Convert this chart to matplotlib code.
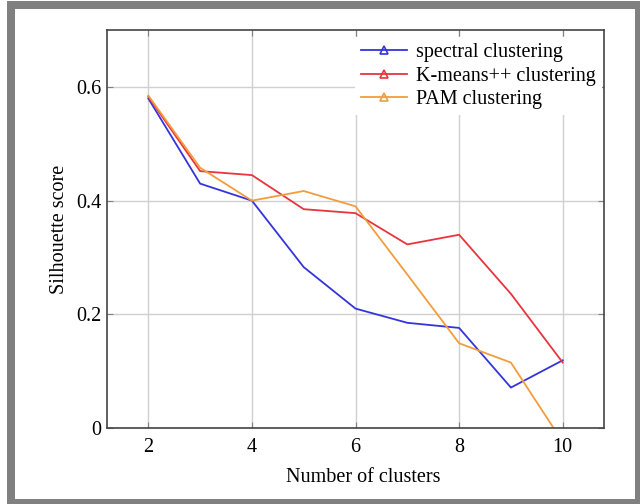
import matplotlib.pyplot as plt
from matplotlib.lines import Line2D
from matplotlib.patches import Rectangle

plt.rcParams['font.family'] = ['Liberation Serif', 'DejaVu Serif']

# 数据
n_clusters = [2, 3, 4, 5, 6, 7, 8, 9, 10]
spectral = [0.580, 0.430, 0.400, 0.283, 0.210, 0.185, 0.176, 0.071, 0.119]
kmeans = [0.583, 0.452, 0.445, 0.385, 0.378, 0.323, 0.340, 0.236, 0.115]
pam = [0.585, 0.458, 0.400, 0.417, 0.390, 0.270, 0.149, 0.115, -0.025]
names = ['spectral clustering', 'K-means++ clustering', 'PAM clustering']
colors = ['#3434dc', '#e8353d', '#f39c3e']

fs = 14.5

fig = plt.figure(figsize=(6.4, 5.04), dpi=100)
ax = fig.add_axes([0.167, 0.151, 0.777, 0.789])

# 灰色外框
fig.patches.append(Rectangle((7, 0), 640, 503, transform=None,
                             facecolor='#808080', edgecolor='none', zorder=-2))
fig.patches.append(Rectangle((15, 5), 620, 490, transform=None,
                             facecolor='white', edgecolor='none', zorder=-1))

for ys, c in zip([spectral, kmeans, pam], colors):
    ax.plot(n_clusters, ys, color=c, lw=1.3)

ax.set_xlim(1.2, 10.8)
ax.set_ylim(0, 0.7)
ax.set_xticks([2, 4, 6, 8, 10])
ax.set_yticks([0, 0.2, 0.4, 0.6])
ax.set_yticklabels(['0', '0.2', '0.4', '0.6'])
ax.grid(True, color='#d0d0d0', lw=1)
ax.set_axisbelow(True)
ax.tick_params(direction='in', length=4, color='#808080', labelsize=fs,
               top=True, right=True)
ax.tick_params(axis='x', pad=7)
ax.tick_params(axis='y', pad=4)
for s in ax.spines.values():
    s.set_color('#444444')
    s.set_linewidth(1.2)

ax.set_xlabel('Number of clusters', fontsize=fs)
ax.set_ylabel('Silhouette score', fontsize=fs, labelpad=5)
ax.xaxis.set_label_coords(0.515, -0.1)

# 图例
handles = [Line2D([], [], color=c, lw=1.3, marker='^', markersize=6,
                  markerfacecolor='none', markeredgewidth=1.2) for c in colors]
leg = ax.legend(handles, names, loc='upper right', fontsize=fs,
                bbox_to_anchor=(1, 1 - 5 / 398),
                handlelength=2.3, borderaxespad=0.1, fancybox=False,
                framealpha=1, edgecolor='none', borderpad=0.3,
                labelspacing=0.22, handletextpad=0.45)

fig.savefig('out.png', dpi=100)
